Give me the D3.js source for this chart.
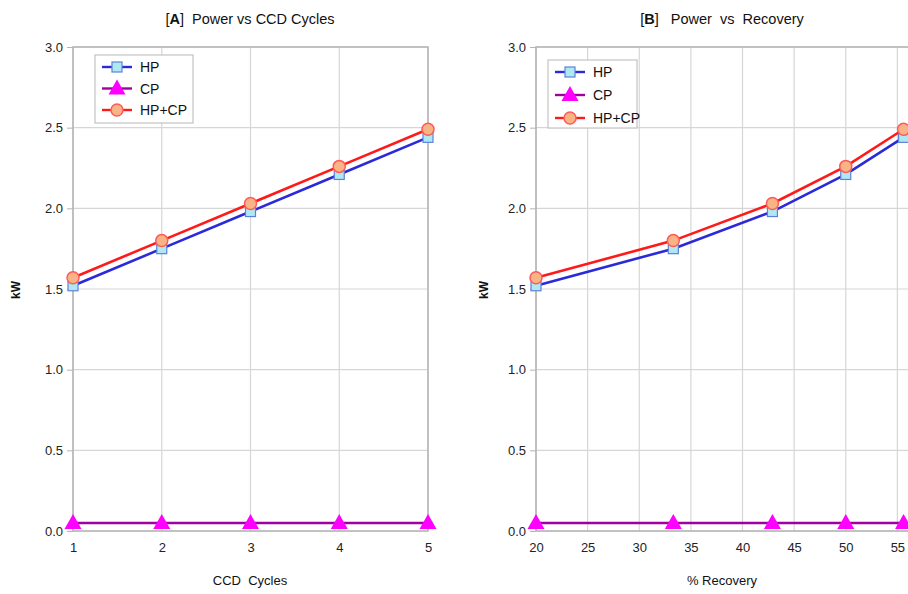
<!DOCTYPE html>
<html>
<head>
<meta charset="utf-8">
<script src="https://cdn.jsdelivr.net/npm/d3@7"></script>
<style>
  body { margin: 0; background: #fff; }
  svg { font-family: "Liberation Sans", Arial, sans-serif; }
  text { white-space: pre; }
</style>
</head>
<body>
<svg id="chart" width="908" height="594"></svg>
<script>
// data
const cycles = [1, 2, 3, 4, 5];
const recovery = [20, 33.3, 42.9, 50, 55.6];
const hp = [1.52, 1.75, 1.98, 2.21, 2.44];
const cp = [0.05, 0.05, 0.05, 0.05, 0.05];
const hpcp = [1.57, 1.80, 2.03, 2.26, 2.49];
const yTicks = [0, 0.5, 1.0, 1.5, 2.0, 2.5, 3.0];
const cycleTicks = [1, 2, 3, 4, 5];
const recoveryTicks = [20, 25, 30, 35, 40, 45, 50, 55];

const series = [
    { name: "HP", values: hp, line: "#2a2ad8", marker: "square", fill: "#aee8f2", stroke: "#5f80d8" },
    { name: "CP", values: cp, line: "#a000a0", marker: "triangle", fill: "#ff00ff", stroke: "#ff00ff" },
    { name: "HP+CP", values: hpcp, line: "#ff1a1a", marker: "circle", fill: "#f9b486", stroke: "#ff5a5a" }
];

const svg = d3.select("#chart");

let drawMarker = (g, type, x, y, s) => {
    if (type === "square") {
        g.append("rect")
            .attr("x", x - 5).attr("y", y - 5)
            .attr("width", 10).attr("height", 10)
            .attr("fill", s.fill).attr("stroke", s.stroke).attr("stroke-width", 1.2);
    } else if (type === "triangle") {
        g.append("path")
            .attr("d", `M${x},${y - 9} L${x + 8.5},${y + 6} L${x - 8.5},${y + 6} Z`)
            .attr("fill", s.fill);
    } else {
        g.append("circle")
            .attr("cx", x).attr("cy", y).attr("r", 6)
            .attr("fill", s.fill).attr("stroke", s.stroke).attr("stroke-width", 1.5);
    }
};

let drawPanel = (opts) => {
    const g = svg.append("g");
    const x = d3.scaleLinear().domain(opts.xDomain).range(opts.xRange);
    const y = d3.scaleLinear().domain([0, 3]).range([531, 47]);

    // grid
    g.selectAll(".vgrid").data(opts.xTicks).enter().append("line")
        .attr("x1", d => x(d)).attr("x2", d => x(d))
        .attr("y1", y(0)).attr("y2", y(3))
        .attr("stroke", "#d6d6d6").attr("stroke-width", 1.2);
    g.selectAll(".hgrid").data(yTicks).enter().append("line")
        .attr("x1", x(opts.xDomain[0])).attr("x2", x(opts.xDomain[1]))
        .attr("y1", d => y(d)).attr("y2", d => y(d))
        .attr("stroke", "#d6d6d6").attr("stroke-width", 1.2);

    // frame
    g.append("rect")
        .attr("x", x(opts.xDomain[0])).attr("y", y(3))
        .attr("width", x(opts.xDomain[1]) - x(opts.xDomain[0]))
        .attr("height", y(0) - y(3))
        .attr("fill", "none").attr("stroke", "#b4b4b4").attr("stroke-width", 1.5);

    // axes
    const yAxis = g.append("g")
        .attr("transform", `translate(${x(opts.xDomain[0])},0)`)
        .call(d3.axisLeft(y).tickValues(yTicks).tickFormat(d3.format(".1f")).tickSize(6).tickPadding(4));
    const xAxis = g.append("g")
        .attr("transform", `translate(0,${y(0)})`)
        .call(d3.axisBottom(x).tickValues(opts.xTicks).tickFormat(d3.format("d")).tickSize(0).tickPadding(12));
    [yAxis, xAxis].forEach(a => {
        a.select(".domain").remove();
        a.selectAll("line").attr("stroke", "#b4b4b4");
        a.selectAll("text").attr("font-size", 13).attr("fill", "#222")
            .attr("font-family", "Liberation Sans, Arial, sans-serif");
    });

    // lines and markers
    series.forEach(s => {
        const pts = opts.xs.map((v, i) => [x(v), y(s.values[i])]);
        g.append("path")
            .attr("d", d3.line()(pts))
            .attr("fill", "none").attr("stroke", s.line).attr("stroke-width", 2.6);
        pts.forEach(p => drawMarker(g, s.marker, p[0], p[1], s));
    });

    // title
    const t = g.append("text")
        .attr("x", opts.titleX).attr("y", 24)
        .attr("text-anchor", "middle").attr("font-size", 14.5).attr("fill", "#111");
    t.append("tspan").text("[");
    t.append("tspan").attr("font-weight", "bold").text(opts.letter);
    t.append("tspan").text("]" + opts.title);

    // axis labels
    g.append("text")
        .attr("x", opts.titleX).attr("y", 585)
        .attr("text-anchor", "middle").attr("font-size", 13).attr("fill", "#111")
        .text(opts.xLabel);
    g.append("text")
        .attr("transform", `translate(${opts.kwX},290) rotate(-90)`)
        .attr("text-anchor", "middle").attr("font-size", 12).attr("font-weight", "bold").attr("fill", "#111")
        .text("kW");

    // legend
    const L = opts.legend;
    g.append("rect")
        .attr("x", L.x).attr("y", L.y).attr("width", L.w).attr("height", L.h)
        .attr("fill", "#fff").attr("stroke", "#c4c4c4").attr("stroke-width", 1.2);
    series.forEach((s, i) => {
        const ly = L.y + 12 + i * L.step;
        g.append("line")
            .attr("x1", L.x + 7).attr("x2", L.x + 37)
            .attr("y1", ly).attr("y2", ly)
            .attr("stroke", s.line).attr("stroke-width", 2.4);
        drawMarker(g, s.marker, L.x + 22, ly, s);
        g.append("text")
            .attr("x", L.x + 45).attr("y", ly + 5)
            .attr("font-size", 14).attr("fill", "#111")
            .text(s.name);
    });
};

drawPanel({
    xDomain: [1, 5], xRange: [73, 428], xTicks: cycleTicks, xs: cycles,
    letter: "A", title: "  Power vs CCD Cycles", titleX: 250,
    xLabel: "CCD  Cycles", kwX: 20,
    legend: { x: 95, y: 55, w: 98, h: 68, step: 21.5 }
});

drawPanel({
    xDomain: [20, 60], xRange: [536, 949], xTicks: recoveryTicks, xs: recovery,
    letter: "B", title: "   Power  vs  Recovery", titleX: 722,
    xLabel: "% Recovery", kwX: 488,
    legend: { x: 548, y: 60, w: 89, h: 68, step: 23 }
});
</script>
</body>
</html>
